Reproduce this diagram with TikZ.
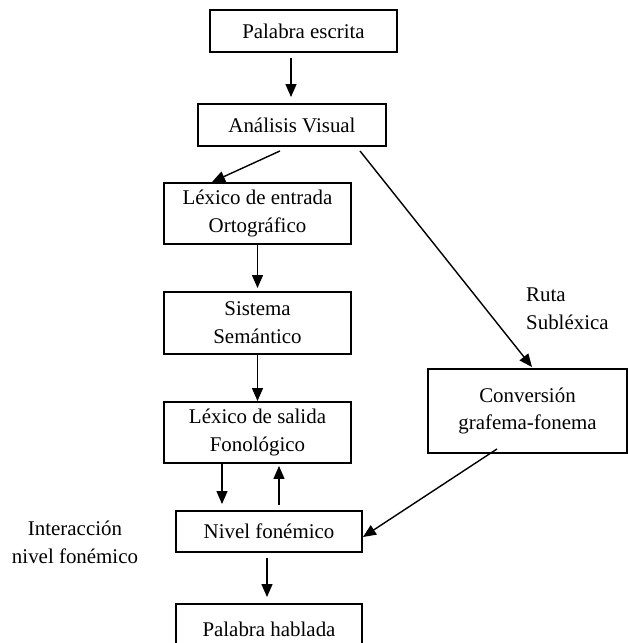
\documentclass[tikz,border=0pt]{standalone}
\usepackage{fontspec}
\setmainfont{Liberation Serif}
\usetikzlibrary{arrows.meta}

\begin{document}
\begin{tikzpicture}[
	font=\fontsize{11.9}{15.9}\selectfont,
	cell/.style={
		rectangle,
		draw,
		line width=1.1pt,
		align=center,
		inner sep=0pt,
		minimum width=3.74cm,
	},
	ArrowT/.style={% Arrows with filled triangle tips
		-{Triangle[length=0.26cm,width=0.22cm]},
		thick,
	},
]
	\useasboundingbox (0,0) rectangle (12.56,12.86);

	\node [cell, minimum height=0.84cm] (escrita) at (6.07,12.24) {Palabra escrita};
	\node [cell, minimum height=0.84cm, minimum width=3.76cm] (visual) at (5.84,10.36) {Análisis Visual};
	\node [cell, minimum height=1.22cm] (lexent) at (5.15,8.59) {Léxico de entrada\\Ortográfico};
	\node [cell, minimum height=1.24cm] (semantico) at (5.15,6.40) {Sistema\\Semántico};
	\node [cell, minimum height=1.22cm] (lexsal) at (5.15,4.21) {Léxico de salida\\Fonológico};
	\node [cell, minimum height=0.82cm, minimum width=3.72cm] (fonemico) at (5.38,2.23) {Nivel fonémico};
	\node [cell, minimum height=1.0cm, minimum width=3.72cm] (hablada) at (5.38,0.28) {Palabra hablada};
	\node [cell, minimum height=1.68cm, minimum width=3.98cm] (conv) at (10.55,4.64) {Conversión\\grafema-fonema};

	\node [align=left, anchor=west] (ruta) at (10.4,6.68) {Ruta\\Subléxica};
	\node [align=center] (interac) at (1.5,2.02) {Interacción\\nivel fonémico};

	\draw [ArrowT, shorten <=0.1cm, shorten >=0.12cm] ([xshift=-0.25cm]escrita.south) -- ([xshift=-0.25cm]escrita.south |- visual.north);
	\draw [ArrowT] ([xshift=-0.24cm, yshift=-0.08cm]visual.south) -- ([xshift=-0.91cm]lexent.north);
	\draw [ArrowT, shorten >=0.06cm] (lexent.south) -- (semantico.north);
	\draw [ArrowT] (semantico.south) -- (lexsal.north);
	\draw [ArrowT, shorten >=0.12cm] ([xshift=-0.71cm]lexsal.south) -- ([xshift=-0.71cm]lexsal.south |- fonemico.north);
	\draw [ArrowT, shorten <=0.1cm, shorten >=0.04cm] ([xshift=0.43cm]lexsal.south |- fonemico.north) -- ([xshift=0.43cm]lexsal.south);
	\draw [ArrowT, shorten <=0.1cm, shorten >=0.12cm] ([xshift=-0.04cm]fonemico.south) -- ([xshift=-0.04cm]fonemico.south |- hablada.north);

	% sublexical route
	\draw [ArrowT] ([xshift=1.36cm, yshift=-0.08cm]visual.south) -- ([xshift=0.09cm, yshift=0.02cm]conv.north);
	\draw [ArrowT] ([xshift=-0.61cm, yshift=0.1cm]conv.south) -- ([yshift=-0.11cm]fonemico.east);
\end{tikzpicture}
\end{document}
